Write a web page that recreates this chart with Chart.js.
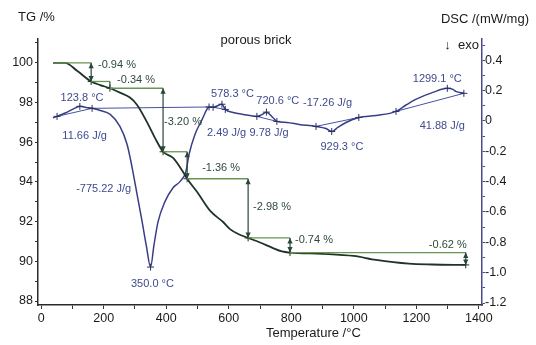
<!DOCTYPE html>
<html>
<head>
<meta charset="utf-8">
<script src="https://cdn.jsdelivr.net/npm/chart.js@4.4.0/dist/chart.umd.min.js"></script>
<style>
  html, body { margin: 0; padding: 0; background: #fff; }
  #wrap { width: 536px; height: 345px; }
</style>
</head>
<body>
<div id="wrap"><canvas id="c" width="536" height="345"></canvas></div>
<script>
// TG curve: temperature (°C) and remaining mass (%)
const tgTemp = [38, 77, 115, 160, 189, 220, 252, 284, 307, 339, 364, 390, 422, 454, 467, 499, 540, 582, 604, 630, 662, 700, 740, 770, 796, 900, 1000, 1071, 1176, 1250, 1358];
const tgMass = [100, 100, 99.60, 99.06, 98.88, 98.72, 98.50, 98.25, 97.88, 97.00, 96.22, 95.52, 95.21, 94.50, 94.16, 93.49, 92.55, 91.98, 91.62, 91.38, 91.18, 90.95, 90.68, 90.50, 90.44, 90.38, 90.27, 90.07, 89.88, 89.84, 89.82];

// DSC curve: temperature (°C) and heat flow (mW/mg)
const dscTemp = [38, 51, 77, 102, 123.8, 144, 163, 189, 221, 252, 275, 291, 307, 323, 336, 350.0, 361, 374, 396, 422, 444, 463, 473, 492, 515, 530, 537, 550, 578.3, 589, 614, 646, 690, 705, 720.6, 741, 754, 786, 825, 879, 911, 929.3, 949, 975, 1016, 1071, 1135, 1167, 1198, 1253, 1299.1, 1317, 1326, 1352];
const dscFlow = [0.020, 0.030, 0.052, 0.078, 0.096, 0.089, 0.083, 0.069, 0.043, -0.036, -0.155, -0.307, -0.486, -0.664, -0.817, -0.963, -0.817, -0.664, -0.532, -0.440, -0.400, -0.334, -0.221, -0.089, 0.010, 0.076, 0.092, 0.090, 0.110, 0.076, 0.056, 0.043, 0.030, 0.040, 0.058, 0.023, -0.003, -0.010, -0.023, -0.036, -0.050, -0.070, -0.043, -0.010, 0.023, 0.036, 0.063, 0.105, 0.142, 0.188, 0.215, 0.208, 0.195, 0.182];

// Mass-loss steps: temperature where each step is read, and its size (%)
const stepTemp = [160, 220, 390, 467, 662, 796, 1358];
const stepLoss = [-0.94, -0.34, -3.20, -1.36, -2.98, -0.74, -0.62];

// DSC peaks (°C), their integrated areas (J/g) and integration limits (°C)
const peakTemp = [123.8, 350.0, 578.3, 720.6, 929.3, 1299.1];
const peakArea = [11.66, -775.22, 2.49, 9.78, -17.26, 41.88];
const baseStart = [51, 163, 550, 690, 879, 1135];
const baseEnd = [163, 537, 589, 754, 1016, 1352];

// Axis ticks
const tempTicks = [0, 200, 400, 600, 800, 1000, 1200, 1400];
const tgTicks = [88, 90, 92, 94, 96, 98, 100];
const dscTicks = [-1.2, -1.0, -0.8, -0.6, -0.4, -0.2, 0, 0.2, 0.4];

// Where the annotation texts sit (temperature, axis value)
const peakLabelAt = [[131, 0.149], [356, -1.074], [612, 0.175], [757, 0.129], [962, -0.169], [1267, 0.274]];
const areaLabelAt = [[139, -0.102], [200, -0.446], [593, -0.076], [729, -0.076], [916, 0.116], [1283, -0.030]];
const stepLabelAt = [[182, 99.90], [243, 99.14], [393, 97.02], [515, 94.70], [678, 92.74], [812, 91.07], [1240, 90.82]];

const FONT = "'Liberation Sans', Arial, Helvetica, sans-serif";
const TG_COLOR = '#1f3326';
const DSC_COLOR = '#383e86';
const DSC_TEXT = '#3e4a8e';
const TG_TEXT = '#2c4a3a';
const GUIDE = '#679552';

const flowAt = t => dscFlow[dscTemp.indexOf(t)];
const massAt = t => tgMass[tgTemp.indexOf(t)];
const pts = (xs, ys) => xs.map((v, i) => ({ x: v, y: ys[i] }));

const datasets = [
  { data: pts(tgTemp, tgMass), yAxisID: 'y', borderColor: TG_COLOR, borderWidth: 1.8,
    pointRadius: 0, cubicInterpolationMode: 'monotone', order: 1 },
  { data: pts(dscTemp, dscFlow), yAxisID: 'y1', borderColor: DSC_COLOR, borderWidth: 1.5,
    pointRadius: 0, cubicInterpolationMode: 'monotone', order: 1 }
];

// peak integration baselines
baseStart.forEach((s, i) => {
  const e = baseEnd[i];
  datasets.push({ data: [{ x: s, y: flowAt(s) }, { x: e, y: flowAt(e) }], yAxisID: 'y1',
    borderColor: '#4a50a0', borderWidth: 1, pointRadius: 0, order: 2 });
});

// cross markers on the DSC curve
const dscMarks = [...new Set([...baseStart, ...baseEnd, ...peakTemp])];
datasets.push({ type: 'scatter', data: dscMarks.map(t => ({ x: t, y: flowAt(t) })), yAxisID: 'y1',
  pointStyle: 'cross', pointRadius: 3.5, borderColor: '#2b2f66', borderWidth: 1, showLine: false, order: 0 });
// cross markers on the TG curve
datasets.push({ type: 'scatter', data: stepTemp.map(t => ({ x: t, y: massAt(t) })), yAxisID: 'y',
  pointStyle: 'cross', pointRadius: 3.5, borderColor: '#1f3326', borderWidth: 1, showLine: false, order: 0 });

function arrowHead(ctx, cx, cy, dir) {
  ctx.beginPath();
  ctx.moveTo(cx, cy);
  ctx.lineTo(cx - 2.6, cy - dir * 5.5);
  ctx.lineTo(cx + 2.6, cy - dir * 5.5);
  ctx.closePath();
  ctx.fill();
}

const annotations = {
  id: 'annotations',
  afterDatasetsDraw(chart) {
    const { ctx, scales: { x, y, y1 } } = chart;
    ctx.save();

    // mass-loss steps with double arrows
    let level = tgMass[0];
    let from = tgTemp[0];
    stepTemp.forEach((t, i) => {
      const next = Math.round((level + stepLoss[i]) * 100) / 100;
      const xa = x.getPixelForValue(from), xb = x.getPixelForValue(t);
      const ya = y.getPixelForValue(level), yb = y.getPixelForValue(next);
      ctx.strokeStyle = GUIDE;
      ctx.lineWidth = 1.3;
      ctx.beginPath(); ctx.moveTo(xa, ya); ctx.lineTo(xb, ya); ctx.stroke();
      ctx.strokeStyle = '#28463a';
      ctx.fillStyle = '#28463a';
      ctx.lineWidth = 1.2;
      ctx.beginPath(); ctx.moveTo(xb, ya); ctx.lineTo(xb, yb); ctx.stroke();
      if (yb - ya > 10) {
        arrowHead(ctx, xb, ya, -1);
        arrowHead(ctx, xb, yb, 1);
      }
      ctx.font = '11px ' + FONT;
      ctx.fillStyle = TG_TEXT;
      ctx.textAlign = 'left';
      ctx.textBaseline = 'middle';
      const [lt, lv] = stepLabelAt[i];
      ctx.fillText(stepLoss[i].toFixed(2) + ' %', x.getPixelForValue(lt), y.getPixelForValue(lv));
      level = next;
      from = t;
    });

    // DSC peak temperatures and areas
    ctx.font = '11px ' + FONT;
    ctx.fillStyle = DSC_TEXT;
    ctx.textAlign = 'center';
    ctx.textBaseline = 'middle';
    peakTemp.forEach((p, i) => {
      const [pt, pv] = peakLabelAt[i];
      ctx.fillText(p.toFixed(1) + ' °C', x.getPixelForValue(pt), y1.getPixelForValue(pv));
      const [at, av] = areaLabelAt[i];
      ctx.fillText(peakArea[i].toFixed(2) + ' J/g', x.getPixelForValue(at), y1.getPixelForValue(av));
    });

    // titles
    ctx.fillStyle = '#1a1a1a';
    ctx.font = '13px ' + FONT;
    ctx.textBaseline = 'middle';
    ctx.textAlign = 'left';
    ctx.fillText('TG /%', 18, 17);
    ctx.textAlign = 'right';
    ctx.fillText('DSC /(mW/mg)', 529, 19);
    ctx.fillText('\u2193  exo', 479, 45);
    ctx.textAlign = 'center';
    ctx.font = '13px ' + FONT;
    ctx.fillText('porous brick', 256, 40);
    ctx.textAlign = 'left';
    ctx.fillText('Temperature /°C', 266, 333);
    ctx.restore();
  }
};

const tickFont = { family: FONT, size: 12.5 };

new Chart(document.getElementById('c'), {
  type: 'line',
  data: { datasets },
  options: {
    responsive: false,
    animation: false,
    events: [],
    layout: { padding: { top: 39, left: 0, right: 0, bottom: 0 } },
    plugins: { legend: { display: false }, tooltip: { enabled: false }, title: { display: false } },
    scales: {
      x: {
        type: 'linear', min: -10, max: 1410,
        ticks: { stepSize: 100, includeBounds: false, autoSkip: false, maxRotation: 0, padding: 2,
          color: '#1a1a1a', font: tickFont,
          callback: v => tempTicks.includes(v) ? String(v) : '' },
        grid: { drawOnChartArea: false, tickLength: 4, tickColor: '#333' },
        border: { color: '#2a2a2a', width: 1.5 },
        afterFit: s => { s.height = 40; }
      },
      y: {
        type: 'linear', position: 'left', min: 87.8, max: 101.2,
        ticks: { stepSize: 1, includeBounds: false, autoSkip: false, padding: 2,
          color: '#1a1a1a', font: tickFont,
          callback: v => tgTicks.includes(v) ? String(v) : '' },
        grid: { drawOnChartArea: false, tickLength: 3, tickColor: '#333' },
        border: { color: '#2a2a2a', width: 1.5 },
        afterFit: s => { s.width = 38; }
      },
      y1: {
        type: 'linear', position: 'right', min: -1.213, max: 0.54,
        ticks: { stepSize: 0.1, includeBounds: false, autoSkip: false, padding: 0,
          color: '#1a1a1a', font: tickFont,
          callback: v => {
            const r = Math.round(v * 10) / 10;
            return dscTicks.some(d => Math.abs(d - r) < 1e-9) && Math.abs(v - r) < 1e-6
              ? (r === 0 ? '0' : r.toFixed(1)) : '';
          } },
        grid: { drawOnChartArea: false, tickLength: 3, tickColor: '#4a4a8a' },
        border: { color: '#4a4a8a', width: 1.5 },
        afterFit: s => { s.width = 54; }
      }
    }
  },
  plugins: [annotations]
});
</script>
</body>
</html>
